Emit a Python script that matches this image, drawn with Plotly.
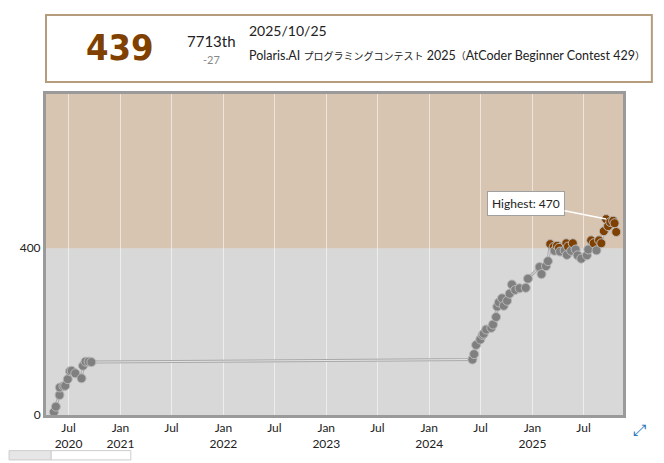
import re
import plotly.graph_objects as go

dates = [
    "2020-05-10", "2020-05-17", "2020-05-30", "2020-05-31", "2020-06-13", "2020-06-19",
    "2020-06-28", "2020-07-06", "2020-07-12", "2020-07-25", "2020-08-16", "2020-08-21",
    "2020-08-30", "2020-09-10", "2020-09-20",
    "2024-06-02", "2024-06-08", "2024-06-15", "2024-06-30", "2024-07-08", "2024-07-12",
    "2024-07-21", "2024-08-08", "2024-08-14", "2024-08-25", "2024-08-29", "2024-09-04",
    "2024-09-15", "2024-09-21", "2024-10-03", "2024-10-12", "2024-10-20", "2024-11-01",
    "2024-11-16", "2024-12-08", "2024-12-16",
    "2025-01-26", "2025-02-02", "2025-02-18", "2025-02-25", "2025-03-05", "2025-03-17",
    "2025-03-20", "2025-03-29", "2025-04-05", "2025-04-09", "2025-04-25", "2025-05-01",
    "2025-05-03", "2025-05-07", "2025-05-18", "2025-05-24", "2025-06-03", "2025-06-10",
    "2025-06-23", "2025-07-13", "2025-07-18", "2025-07-28", "2025-08-06", "2025-08-16",
    "2025-08-25", "2025-09-02", "2025-09-11", "2025-09-19", "2025-09-26", "2025-10-04",
    "2025-10-14", "2025-10-19", "2025-10-25",
]
ratings = [
    7, 20, 48, 66, 69, 70,
    86, 105, 106, 100, 88, 118,
    128, 128, 127,
    133, 146, 168, 181, 192, 195,
    205, 209, 217, 235, 260, 270,
    280, 262, 274, 291, 313, 300,
    304, 305, 327,
    355, 338, 357, 369, 410, 403,
    394, 406, 401, 392, 395, 412,
    384, 404, 394, 412, 397, 383,
    375, 383, 397, 419, 412, 395,
    419, 412, 441, 470, 453, 463,
    466, 460, 439,
]

x_tickvals = ["2020-07-01", "2021-01-01", "2021-07-01", "2022-01-01", "2022-07-01",
              "2023-01-01", "2023-07-01", "2024-01-01", "2024-07-01", "2025-01-01", "2025-07-01"]
x_ticktext = ["Jul<br>2020", "Jan<br>2021", "Jul", "Jan<br>2022", "Jul", "Jan<br>2023",
              "Jul", "Jan<br>2024", "Jul", "Jan<br>2025", "Jul"]
y_tickvals = [0, 400]

latest_rating = "439"
latest_rank = "7713th"
latest_diff = "-27"
latest_date = "2025/10/25"
latest_contest = "Polaris.AI プログラミングコンテスト 2025（AtCoder Beginner Contest 429）"
highest_label = "Highest: 470"

X0, X1 = "2020-04-12", "2025-11-18"
Y0, Y1 = 0, 770

colors = ["#804000" if r >= 400 else "#808080" for r in ratings]

# smaller rendering of CJK runs so the title fits like the (condensed) reference
contest_markup = re.sub(r"([\u3000-\u30ff\uff00-\uffef]+)",
                        r'<span style="font-size:10px">\1</span>', latest_contest)

fig = go.Figure()

fig.add_shape(type="rect", xref="paper", yref="y", x0=0, x1=1, y0=0, y1=400,
              fillcolor="#d8d8d8", line_width=0, layer="below")
fig.add_shape(type="rect", xref="paper", yref="y", x0=0, x1=1, y0=400, y1=Y1,
              fillcolor="#d8c5b1", line_width=0, layer="below")

fig.add_trace(go.Scatter(x=dates, y=ratings, mode="lines",
                         line=dict(color="#a8a8a8", width=3), hoverinfo="skip",
                         showlegend=False))
fig.add_trace(go.Scatter(x=dates, y=ratings, mode="lines",
                         line=dict(color="#e4e4e4", width=1), hoverinfo="skip",
                         showlegend=False))
fig.add_trace(go.Scatter(x=dates, y=ratings, mode="markers",
                         marker=dict(size=9, color=colors,
                                     line=dict(color="#b8b8b8", width=1)),
                         showlegend=False))

imax = ratings.index(max(ratings))
fig.add_annotation(x=dates[imax], y=ratings[imax], text=highest_label,
                   showarrow=True, arrowhead=0, arrowcolor="#ffffff", arrowwidth=1.5,
                   ax=-80, ay=-16, bgcolor="#ffffff", bordercolor="#a0a0a0",
                   borderwidth=1, borderpad=4,
                   font=dict(family="Lato", size=12, color="#222222"))

# header box
fig.add_shape(type="rect", xref="paper", yref="paper", x0=0, x1=1.050,
              y0=1.037, y1=1.246, line=dict(color="#b49c7c", width=2),
              fillcolor="#ffffff")
fig.add_annotation(xref="paper", yref="paper", x=0.129, y=1.146,
                   text="<b>" + latest_rating + "</b>",
                   showarrow=False, xanchor="center", yanchor="middle",
                   font=dict(family="DejaVu Sans Condensed", size=36, color="#804000"))
fig.add_annotation(xref="paper", yref="paper", x=0.286, y=1.165, text=latest_rank,
                   showarrow=False, xanchor="center", yanchor="middle",
                   font=dict(family="Lato", size=15, color="#222222"))
fig.add_annotation(xref="paper", yref="paper", x=0.286, y=1.107, text=latest_diff,
                   showarrow=False, xanchor="center", yanchor="middle",
                   font=dict(family="Lato", size=11, color="#888888"))
fig.add_annotation(xref="paper", yref="paper", x=0.348, y=1.197, text=latest_date,
                   showarrow=False, xanchor="left", yanchor="middle",
                   font=dict(family="Lato", size=14, color="#222222"))
fig.add_annotation(xref="paper", yref="paper", x=0.348, y=1.120, text=contest_markup,
                   showarrow=False, xanchor="left", yanchor="middle",
                   font=dict(family="Lato, Noto Sans CJK JP", size=12.5,
                             color="#222222"))

# bottom-left tab and expand icon
fig.add_shape(type="rect", xref="paper", yref="paper", x0=-0.064, x1=0.009,
              y0=-0.111, y1=-0.140, fillcolor="#e6e6e6", line=dict(color="#cccccc", width=1))
fig.add_shape(type="rect", xref="paper", yref="paper", x0=0.009, x1=0.147,
              y0=-0.111, y1=-0.140, fillcolor="#ffffff", line=dict(color="#cccccc", width=1))
fig.add_annotation(xref="paper", yref="paper", x=1.043, y=-0.080, text="⤢",
                   showarrow=False, font=dict(size=16, color="#2a7ac0"))

fig.update_layout(
    width=656, height=455,
    margin=dict(l=37, r=41, t=86, b=44),
    paper_bgcolor="#ffffff", plot_bgcolor="#d8d8d8",
    font=dict(family="Lato", size=12, color="#222222"),
    xaxis=dict(range=[X0, X1], tickvals=x_tickvals, ticktext=x_ticktext,
               showgrid=True, gridcolor="rgba(255,255,255,0.55)", gridwidth=1,
               zeroline=False, showline=True, linecolor="#9a9a9a", linewidth=3,
               mirror=True, ticks="", tickfont=dict(family="Lato", size=12, color="#222222")),
    yaxis=dict(range=[Y0, Y1], tickvals=y_tickvals, showgrid=False, zeroline=False,
               showline=True, linecolor="#9a9a9a", linewidth=3, mirror=True, ticks="",
               tickfont=dict(family="Lato", size=12, color="#222222")),
    hovermode=False,
)

fig.write_html("out.html")
